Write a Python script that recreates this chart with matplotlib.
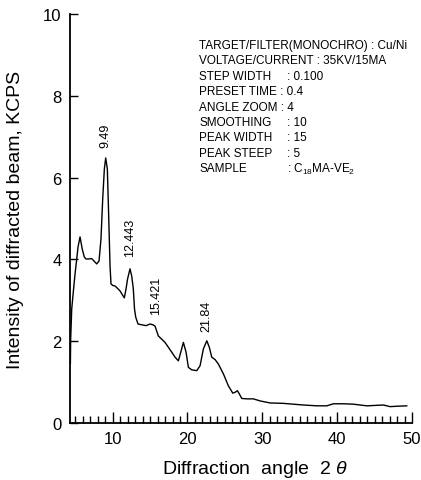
import numpy as np
import matplotlib
matplotlib.use('Agg')
import matplotlib.pyplot as plt
from matplotlib.ticker import MultipleLocator

plt.rcParams['font.family'] = ['Liberation Sans', 'DejaVu Sans']
plt.rcParams['mathtext.fontset'] = 'custom'
plt.rcParams['mathtext.rm'] = 'Liberation Sans'
plt.rcParams['mathtext.it'] = 'Liberation Sans:italic'

# diffraction pattern (2theta in deg, intensity in KCPS)
two_theta = [4.35, 4.39, 4.53, 4.74, 4.97, 5.20, 5.37, 5.64, 5.94, 6.21, 6.44, 6.75,
             7.20, 7.51, 7.87, 8.18, 8.44, 8.67, 8.89, 9.07, 9.29, 9.47, 9.65, 9.78,
             10.05, 10.32, 10.72, 10.98, 11.25, 11.56, 11.79, 11.99, 12.32, 12.55, 12.76,
             12.92, 13.08, 13.39, 13.93, 14.46, 15.00, 15.40, 15.66, 16.10, 17.00, 17.90,
             18.34, 18.78, 19.10, 19.45, 19.81, 20.12, 20.57, 21.24, 21.68, 22.12, 22.58,
             22.92, 23.24, 23.69, 24.13, 24.80, 25.46, 26.05, 26.36, 26.67, 26.93, 27.25,
             27.92, 28.80, 29.70, 31.04, 32.82, 34.15, 35.49, 37.28, 38.62, 39.50, 40.84,
             42.17, 43.97, 46.19, 47.08, 47.98, 49.30]
intensity = [1.45, 2.05, 2.79, 3.20, 3.64, 4.01, 4.30, 4.55, 4.25, 4.06, 4.01, 4.01,
             4.02, 3.96, 3.89, 3.96, 4.50, 5.48, 6.21, 6.48, 6.21, 5.06, 3.84, 3.40,
             3.36, 3.35, 3.28, 3.23, 3.15, 3.06, 3.28, 3.52, 3.77, 3.59, 3.28,
             2.79, 2.59, 2.42, 2.40, 2.38, 2.42, 2.40, 2.37, 2.13, 1.97, 1.73,
             1.61, 1.52, 1.73, 1.97, 1.73, 1.36, 1.30, 1.28, 1.40, 1.81, 2.01,
             1.85, 1.61, 1.55, 1.44, 1.20, 0.91, 0.73, 0.75, 0.79, 0.71, 0.60,
             0.59, 0.59, 0.54, 0.49, 0.48, 0.46, 0.44, 0.42, 0.42, 0.47, 0.47,
             0.46, 0.42, 0.44, 0.40, 0.41, 0.42]

peak_labels = ['9.49', '12.443', '15.421', '21.84']
peak_label_x = [9.0, 12.34, 15.76, 22.58]
peak_label_y = [6.75, 4.08, 2.67, 2.25]

cond_names = ['TARGET/FILTER(MONOCHRO) : Cu/Ni', 'VOLTAGE/CURRENT : 35KV/15MA',
              'STEP WIDTH', 'PRESET TIME : 0.4', 'ANGLE ZOOM : 4', 'SMOOTHING',
              'PEAK WIDTH', 'PEAK STEEP', 'SAMPLE']
cond_values = ['', '', ': 0.100', '', '', ': 10', ': 15', ': 5', r': C$_{18}$MA-VE$_2$']

fig = plt.figure(figsize=(4.21, 4.81), dpi=100)
ax = fig.add_axes([70/421, 57/481, 342/421, 409/481])

ax.plot(two_theta, intensity, color='black', lw=1.0)

for lab, px, py in zip(peak_labels, peak_label_x, peak_label_y):
    ax.text(px, py, lab, rotation=90, ha='center', va='bottom', fontsize=9)

for i, (name, val) in enumerate(zip(cond_names, cond_values)):
    y = 1 - (46 + i*15.4)/481
    fig.text(199/421, y, name, fontsize=8.5, va='center')
    if val:
        fig.text(287/421, y, val, fontsize=8.5, va='center')

ax.set_xlim(4.3, 50)
ax.set_ylim(0, 10)
ax.xaxis.set_major_locator(MultipleLocator(10))
ax.xaxis.set_minor_locator(MultipleLocator(1))
ax.yaxis.set_major_locator(MultipleLocator(2))
ax.tick_params(axis='x', which='major', direction='in', length=8, width=1, labelsize=12, pad=6)
ax.tick_params(axis='x', which='minor', direction='in', length=5, width=1)
ax.tick_params(axis='y', which='major', direction='in', length=6, width=1, labelsize=12, pad=6)
for s in ['top', 'right']:
    ax.spines[s].set_visible(False)
for s in ['left', 'bottom']:
    ax.spines[s].set_linewidth(1.3)

ax.set_xlabel(r'Diffraction  angle  2 $\it{\theta}$', fontsize=14)
ax.xaxis.set_label_coords(0.54, -0.085)
ax.set_ylabel('Intensity of diffracted beam, KCPS', fontsize=14)
ax.yaxis.set_label_coords(-0.135, 0.5)

plt.savefig('out.png', dpi=100)
